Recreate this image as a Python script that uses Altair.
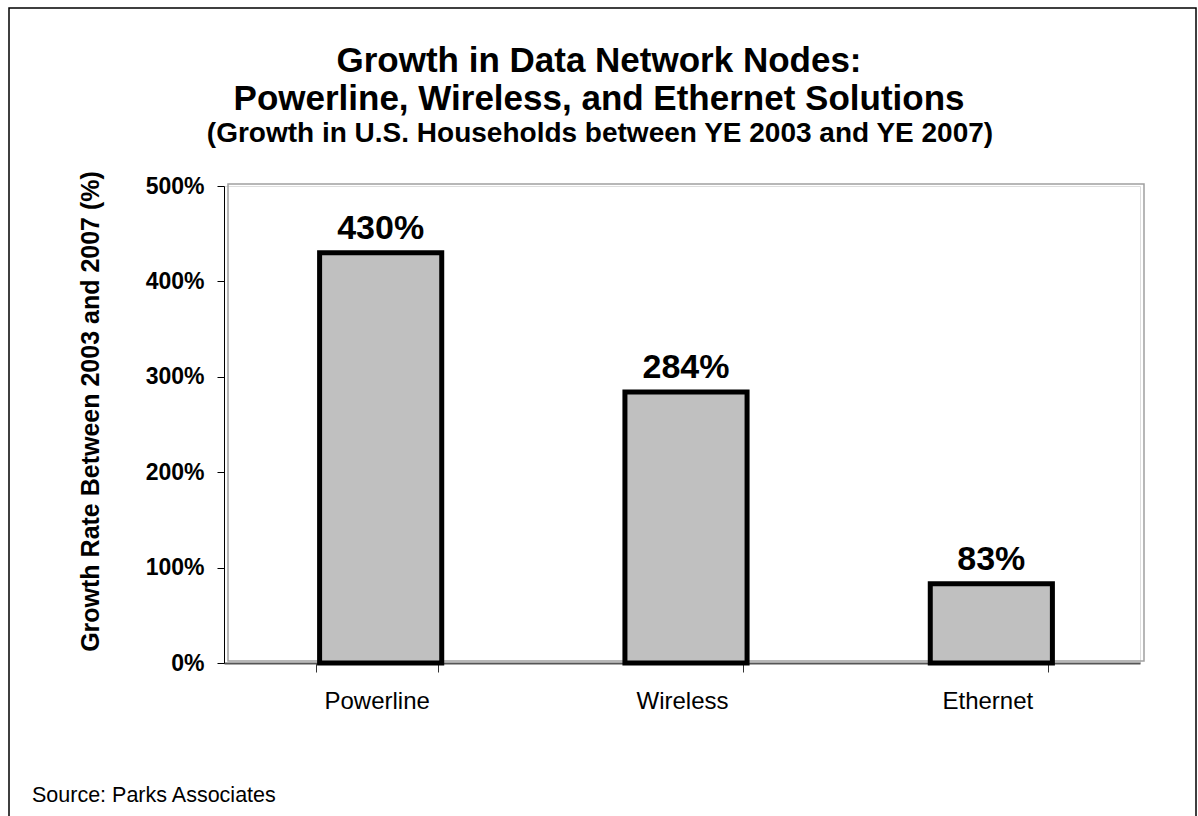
import altair as alt
import pandas as pd

categories = ["Powerline", "Wireless", "Ethernet"]
growth = [430, 284, 83]
value_labels = ["430%", "284%", "83%"]
y_ticks = [0, 100, 200, 300, 400, 500]
title_lines = ["Growth in Data Network Nodes:", "Powerline, Wireless, and Ethernet Solutions"]
subtitle_text = "(Growth in U.S. Households between YE 2003 and YE 2007)"
source_text = "Source: Parks Associates"

FONT = "Liberation Sans"

df = pd.DataFrame({"cat": categories, "val": growth, "label": value_labels})
one = pd.DataFrame({"k": [0]})

xscale = alt.Scale(paddingInner=0.6, paddingOuter=0.3)
xenc = alt.X(
    "cat:N", sort=categories, scale=xscale,
    axis=alt.Axis(
        title=None, labelFont=FONT, labelFontSize=24, labelColor="black",
        labelAngle=0, tickBand="extent", tickSize=9, tickColor="#333333",
        domainColor="#555555", domainWidth=2, labelPadding=36,
        labelBaseline="alphabetic",
    ),
)
yenc = alt.Y(
    "val:Q", scale=alt.Scale(domain=[0, 500], nice=False),
    axis=alt.Axis(
        values=y_ticks, labelExpr="datum.value + '%'", grid=False,
        title="Growth Rate Between 2003 and 2007 (%)", titleFont=FONT,
        titleFontSize=25, titleFontWeight="bold", titleColor="black",
        titleAngle=270, titleX=-126, titleY=225, titleBaseline="alphabetic",
        titleAlign="center",
        labelFont=FONT, labelFontSize=23, labelFontWeight="bold",
        labelColor="black", tickSize=7, labelPadding=13,
        domainColor="black", tickColor="black",
    ),
)

frame = alt.Chart(one).mark_rect(filled=False, stroke="#a0a0a0", strokeWidth=1.5).encode(
    x=alt.value(4), x2=alt.value(920), y=alt.value(-2), y2=alt.value(475)
)

bars = alt.Chart(df).mark_bar(
    fill="#c0c0c0", stroke="black", strokeWidth=5, xOffset=4
).encode(x=xenc, y=yenc)

texts = alt.Chart(df).mark_text(
    font=FONT, fontSize=34, fontWeight="bold", baseline="alphabetic",
    dy=-14, xOffset=4, color="black"
).encode(
    x=alt.X("cat:N", sort=categories, scale=xscale),
    y=alt.Y("val:Q"),
    text="label:N",
)

border = alt.Chart(one).mark_rect(filled=False, stroke="black", strokeWidth=1.5).encode(
    x=alt.value(-215), x2=alt.value(972), y=alt.value(-178), y2=alt.value(645)
)

title1 = alt.Chart(one).mark_text(
    font=FONT, fontSize=35, fontWeight="bold", align="center",
    baseline="alphabetic", color="black", text=title_lines[0]
).encode(x=alt.value(375), y=alt.value(-114))

title2 = alt.Chart(one).mark_text(
    font=FONT, fontSize=35, fontWeight="bold", align="center",
    baseline="alphabetic", color="black", text=title_lines[1]
).encode(x=alt.value(375), y=alt.value(-76))

subtitle = alt.Chart(one).mark_text(
    font=FONT, fontSize=28, fontWeight="bold", align="center",
    baseline="alphabetic", color="black", text=subtitle_text
).encode(x=alt.value(376), y=alt.value(-44))

source = alt.Chart(one).mark_text(
    font=FONT, fontSize=21.5, align="left", baseline="alphabetic",
    color="black", text=source_text
).encode(x=alt.value(-192), y=alt.value(616))

chart = alt.layer(frame, bars, texts, border, title1, title2, subtitle, source).properties(
    width=916,
    height=477,
    autosize=alt.AutoSizeParams(type="none"),
    padding={"left": 224, "top": 186, "right": 58, "bottom": 153},
).configure_view(stroke=None).configure(background="white")

chart.save("out.html", embed_options={"renderer": "svg", "actions": False})
